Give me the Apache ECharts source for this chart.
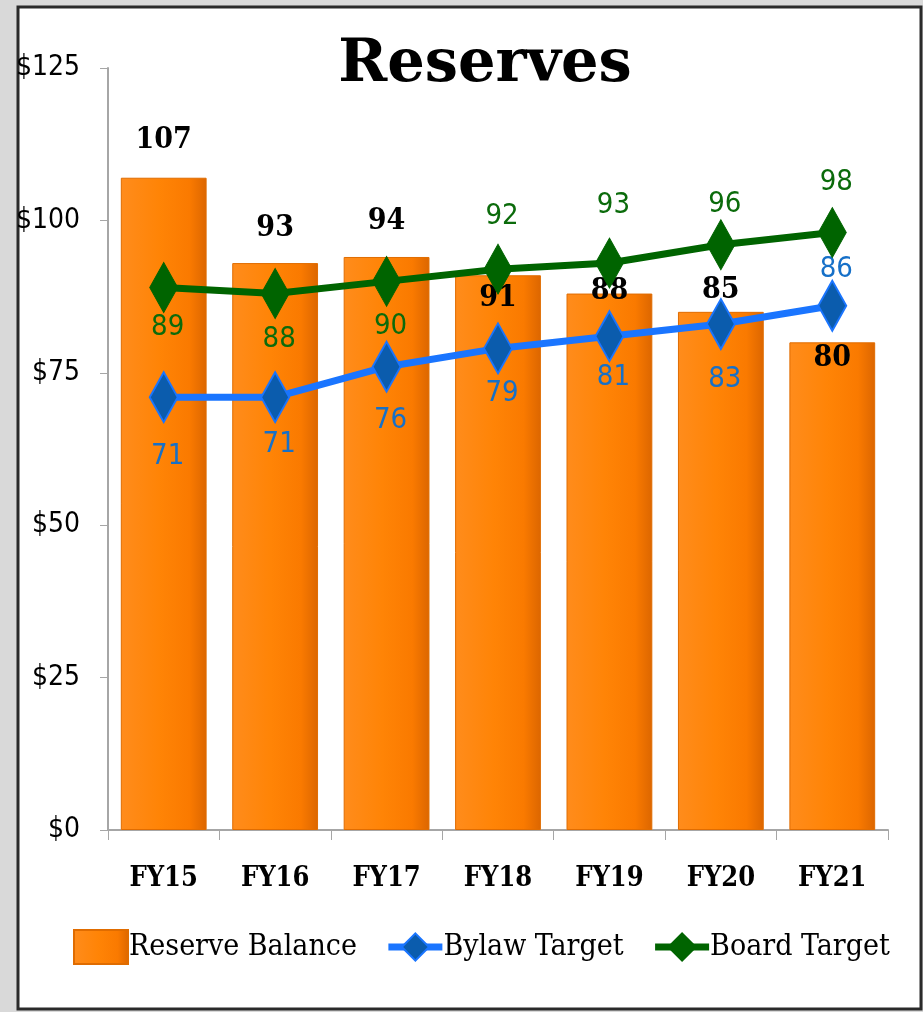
<!DOCTYPE html>
<html>
<head>
<meta charset="utf-8">
<script src="https://cdn.jsdelivr.net/npm/echarts@6/dist/echarts.min.js"></script>
<style>
html,body{margin:0;padding:0;background:#d9d9d9;}
#chart{width:923px;height:1012px;}
</style>
</head>
<body>
<div id="chart"></div>
<script>
// ---- data ----
const categories = ['FY15', 'FY16', 'FY17', 'FY18', 'FY19', 'FY20', 'FY21'];
const reserveBalance = [107, 93, 94, 91, 88, 85, 80];
const bylawTarget = [71, 71, 76, 79, 81, 83, 86];
const boardTarget = [89, 88, 90, 92, 93, 96, 98];
const yTickValues = [0, 25, 50, 75, 100, 125];

// ---- label placement (style, not data) ----
const barLabelDy = [-23, -20, -21, 38, 13, -7, 31];
const bylawLabelDy = [59, 47, 54, 45, 41, 55, -36];
const boardLabelDy = [40, 46, 45, -53, -58, -40, -50];

const serifC = '"DejaVu Serif Condensed", "DejaVu Serif", serif';
const sansN = '"DejaVu Sans Condensed", "Open Sans", sans-serif';

const chart = echarts.init(document.getElementById('chart'), null, {renderer: 'canvas'});

const barColor = new echarts.graphic.LinearGradient(0, 0, 1, 0, [
  {offset: 0, color: '#ff8c1c'},
  {offset: 0.45, color: '#ff8406'},
  {offset: 0.8, color: '#fa7a00'},
  {offset: 1, color: '#dc6600'}
]);

const option = {
  backgroundColor: '#d9d9d9',
  animation: false,
  graphic: [{
    type: 'rect',
    z: -10,
    shape: {x: 18, y: 7, width: 903, height: 1002},
    style: {fill: '#ffffff', stroke: '#2a2a2a', lineWidth: 3}
  }],
  title: {
    text: 'Reserves',
    left: 480,
    textAlign: 'center',
    top: 31,
    textStyle: {fontFamily: '"DejaVu Serif", serif', fontWeight: 'bold', fontSize: 59, color: '#000'}
  },
  grid: {left: 108, right: 35, top: 68, bottom: 182, containLabel: false},
  legend: {
    left: 68,
    top: 924,
    itemWidth: 54,
    itemHeight: 34,
    itemGap: 28,
    textStyle: {fontFamily: serifC, fontSize: 30, color: '#000', padding: [0, 0, 0, -4]},
    data: [
      {name: 'Reserve Balance', icon: 'rect'},
      {name: 'Bylaw Target', lineStyle: {width: 7}},
      {name: 'Board Target', lineStyle: {width: 7}}
    ]
  },
  xAxis: {
    type: 'category',
    data: categories,
    axisLine: {show: true, lineStyle: {color: '#a6a6a6', width: 2}},
    axisTick: {show: true, alignWithLabel: false, length: 10, lineStyle: {color: '#a6a6a6'}},
    axisLabel: {margin: 35, fontFamily: serifC, fontWeight: 'bold', fontSize: 27, color: '#000'}
  },
  yAxis: {
    type: 'value',
    min: yTickValues[0],
    max: yTickValues[yTickValues.length - 1],
    interval: yTickValues[1] - yTickValues[0],
    axisLine: {show: true, lineStyle: {color: '#a6a6a6', width: 2}},
    axisTick: {show: true, inside: false, length: 8, lineStyle: {color: '#a6a6a6'}},
    splitLine: {show: false},
    axisLabel: {margin: 28, fontFamily: sansN, fontSize: 28, color: '#000', formatter: v => '$' + v}
  },
  series: [
    {
      name: 'Reserve Balance',
      type: 'bar',
      barCategoryGap: '23%',
      itemStyle: {color: barColor, borderColor: '#e06c00', borderWidth: 1},
      label: {
        show: true, position: 'top', distance: 0,
        fontFamily: serifC, fontWeight: 'bold', fontSize: 30, lineHeight: 30, color: '#000'
      },
      data: reserveBalance.map((v, i) => ({value: v, label: {offset: [0, barLabelDy[i]]}})),
      z: 2
    },
    {
      name: 'Bylaw Target',
      type: 'line',
      symbol: 'diamond',
      symbolSize: [28, 50],
      lineStyle: {color: '#1a75ff', width: 7},
      itemStyle: {color: '#0b5cad', borderColor: '#1a75ff', borderWidth: 2},
      label: {
        show: true, position: 'inside',
        fontFamily: sansN, fontSize: 29, color: '#1670c8'
      },
      data: bylawTarget.map((v, i) => ({value: v, label: {offset: [4, bylawLabelDy[i]]}})),
      z: 4
    },
    {
      name: 'Board Target',
      type: 'line',
      symbol: 'diamond',
      symbolSize: [28, 50],
      lineStyle: {color: '#006400', width: 7},
      itemStyle: {color: '#006400', borderColor: '#006400', borderWidth: 1},
      label: {
        show: true, position: 'inside',
        fontFamily: sansN, fontSize: 29, color: '#0b6b0b'
      },
      data: boardTarget.map((v, i) => ({value: v, label: {offset: [4, boardLabelDy[i]]}})),
      z: 5
    }
  ]
};
chart.setOption(option);
</script>
</body>
</html>
